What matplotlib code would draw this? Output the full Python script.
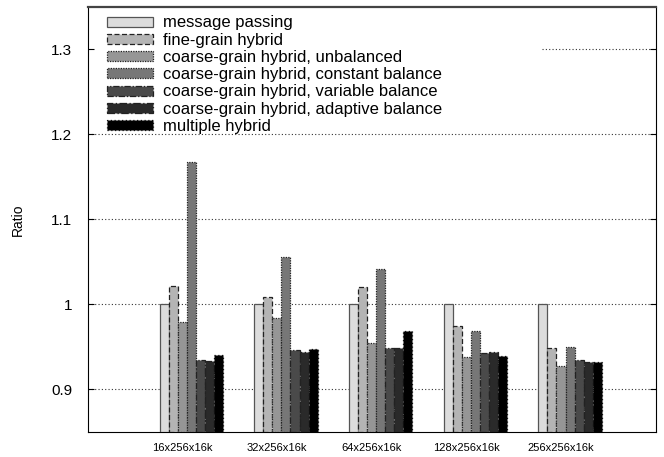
import matplotlib.pyplot as plt
import numpy as np

plt.rcParams['font.family'] = ['Liberation Sans', 'DejaVu Sans']

sizes = ['16x256x16k', '32x256x16k', '64x256x16k', '128x256x16k', '256x256x16k']
series = ['message passing', 'fine-grain hybrid', 'coarse-grain hybrid, unbalanced',
          'coarse-grain hybrid, constant balance', 'coarse-grain hybrid, variable balance',
          'coarse-grain hybrid, adaptive balance', 'multiple hybrid']

message_passing = [1.000, 1.000, 1.000, 1.000, 1.000]
fine_grain      = [1.021, 1.009, 1.020, 0.975, 0.949]
cg_unbalanced   = [0.979, 0.984, 0.954, 0.938, 0.927]
cg_constant     = [1.167, 1.056, 1.042, 0.968, 0.950]
cg_variable     = [0.934, 0.946, 0.948, 0.943, 0.934]
cg_adaptive     = [0.933, 0.944, 0.949, 0.944, 0.932]
multiple_hybrid = [0.940, 0.947, 0.968, 0.939, 0.932]

yticks = [0.9, 1.0, 1.1, 1.2, 1.3]
ytick_labels = ['0.9', '1', '1.1', '1.2', '1.3']

values = [message_passing, fine_grain, cg_unbalanced, cg_constant,
          cg_variable, cg_adaptive, multiple_hybrid]
colors = ['#dcdcdc', '#b4b4b4', '#969696', '#777777', '#4a4a4a', '#2a2a2a', '#000000']
edges = ['#555555', '#222222', '#222222', '#222222', '#222222', '#222222', '#111111']
styles = ['-', (0, (4, 2)), (0, (1, 1)), (0, (1, 1)), (0, (5, 1.5, 1, 1.5)),
          (0, (6, 2, 1, 2)), (0, (1, 2))]

fig = plt.figure(figsize=(6.64, 4.57), dpi=100)
ax = fig.add_axes([0.1318, 0.0554, 0.8557, 0.9293])

x = np.arange(1, len(sizes) + 1)
w = 0.0956
for i, (vals, c, ec, ls, name) in enumerate(zip(values, colors, edges, styles, series)):
    ax.bar(x + (i - 2) * w, np.array(vals) - 0.85, w, bottom=0.85, color=c,
           edgecolor=ec, linestyle=ls, linewidth=0.9, label=name, zorder=3)

ax.set_xlim(0, 6)
ax.set_ylim(0.85, 1.35)
ax.set_xticks(x)
ax.set_xticklabels(sizes, fontsize=8)
ax.set_yticks(yticks)
ax.set_yticklabels(ytick_labels, fontsize=11)
ax.tick_params(axis='x', length=0, pad=8)
ax.tick_params(axis='y', direction='in', length=4, right=True, pad=11)
ax.set_ylabel('Ratio', fontsize=10, labelpad=19)

# dotted grid; the top one is hidden behind the key in the original
for yv in yticks:
    start = 0.80 if yv > 1.25 else 0.0
    ax.axhline(yv, xmin=start, linestyle=(0, (1, 2)), color='#333333',
               linewidth=0.8, zorder=0)

ax.spines['top'].set_linewidth(1.6)
ax.spines['top'].set_color('#444444')

leg = ax.legend(loc='upper left', bbox_to_anchor=(0.034, 0.98),
                fontsize=12, handlelength=2.75, handleheight=0.55, labelspacing=0.135,
                handletextpad=0.6, borderpad=0.0, borderaxespad=0.0, frameon=False)

fig.savefig('out.png', dpi=100)
